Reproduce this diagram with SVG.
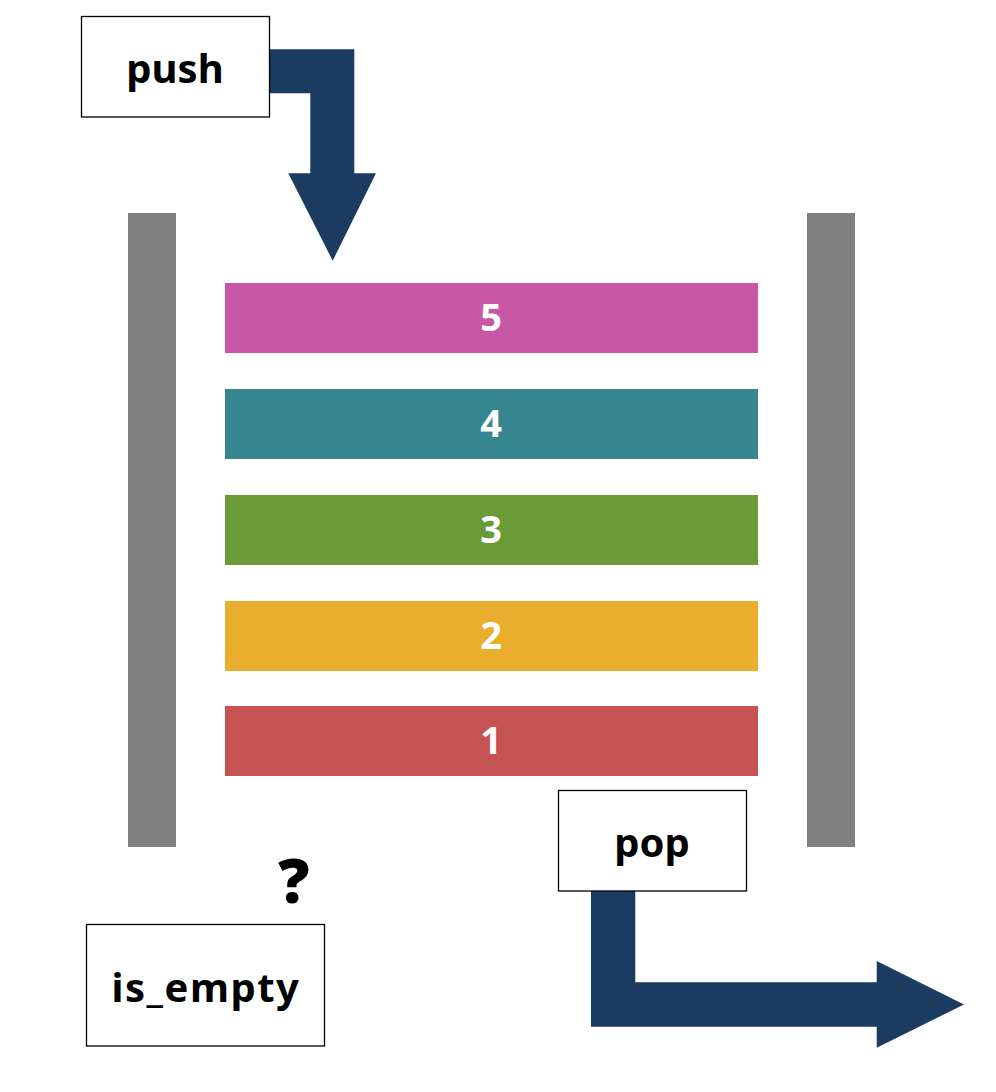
<svg xmlns="http://www.w3.org/2000/svg" width="996" height="1092" viewBox="0 0 996 1092">
<style>
.box{fill:#fff;stroke:#000;stroke-width:1.3}
.lbl{font-family:"Noto Sans","DejaVu Sans",sans-serif;font-weight:bold;font-size:40px;fill:#000;text-anchor:middle}
.num{font-family:"Noto Sans","DejaVu Sans",sans-serif;font-weight:bold;font-size:38px;fill:#fff;text-anchor:middle}
.wall{fill:#808080}
.arrow{fill:#1C3B60}
</style>
<rect width="996" height="1092" fill="#fff"/>
<g id="walls">
<rect class="wall" x="128" y="213" width="48" height="634"/>
<rect class="wall" x="807" y="213" width="48" height="634"/>
</g>
<g id="connectors">
<path class="arrow" d="M269,49.3 H354.3 V173.3 H376 L332.7,260.7 L288.3,173.3 H310.3 V93.3 H269 Z"/>
<path class="arrow" d="M591,891 H635.3 V982.3 H876.7 V961 L964,1004.5 L876.7,1047.7 V1026.7 H591 Z"/>
</g>
<g id="item5"><rect x="225" y="283" width="533" height="70" fill="#C857A6"/><text class="num" x="491" y="331">5</text></g>
<g id="item4"><rect x="225" y="389" width="533" height="70" fill="#36868F"/><text class="num" x="491" y="437">4</text></g>
<g id="item3"><rect x="225" y="495" width="533" height="70" fill="#6A9B37"/><text class="num" x="491" y="543">3</text></g>
<g id="item2"><rect x="225" y="601" width="533" height="70" fill="#E9AE2D"/><text class="num" x="491" y="649">2</text></g>
<g id="item1"><rect x="225" y="706" width="533" height="70" fill="#C65353"/><text class="num" x="491" y="754">1</text></g>
<g id="push"><rect class="box" x="81.5" y="16.5" width="188" height="100.5"/><text class="lbl" x="175" y="83">push</text></g>
<g id="pop"><rect class="box" x="558.5" y="790.5" width="188" height="100.5"/><text class="lbl" x="652" y="857">pop</text></g>
<g id="is_empty"><rect class="box" x="86.5" y="924.5" width="238" height="121.5"/><text class="lbl" x="206" y="1002" style="letter-spacing:1.5px">is_empty</text></g>
<g id="question"><text class="lbl" x="294" y="903" style="font-size:62px;font-weight:900">?</text></g>
</svg>
